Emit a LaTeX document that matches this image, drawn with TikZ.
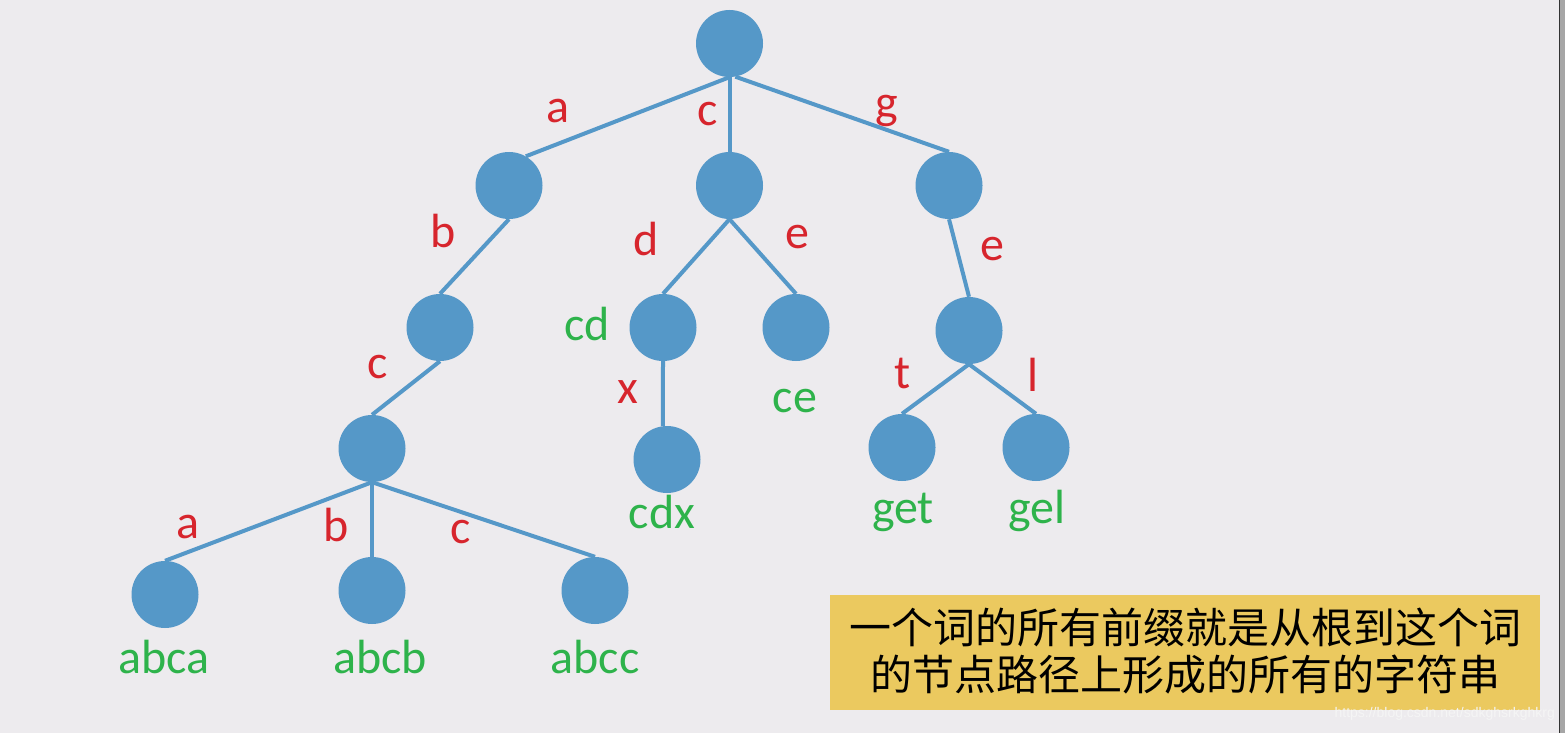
\documentclass[tikz,border=0pt]{standalone}
\usepackage{fontspec}
\setmainfont{Carlito}
\newfontfamily\cjkfont{Noto Sans CJK SC}
\newfontfamily\wmfont{Liberation Sans}
\definecolor{bgcol}{HTML}{EDEBEE}
\definecolor{nodeblue}{HTML}{5598C8}
\definecolor{lblred}{HTML}{D7252D}
\definecolor{wordgreen}{HTML}{2EB34B}
\definecolor{boxyellow}{HTML}{EBC95F}
\tikzset{
  tn/.style={circle, fill=nodeblue, minimum size=67bp, inner sep=0pt},
  tedge/.style={draw=nodeblue, line width=4bp},
  elbl/.style={text=lblred, font=\fontsize{48bp}{52bp}\selectfont, anchor=base, inner sep=0pt},
  wlbl/.style={text=wordgreen, font=\fontsize{48bp}{52bp}\selectfont, anchor=base, inner sep=0pt},
}
\begin{document}
\begin{tikzpicture}[x=1bp,y=-1bp]
\fill[bgcol] (0,0) rectangle (1565,732);
\fill[gray!70] (1559,0) rectangle (1565,732);
\draw[gray!40!black, line width=1bp] (1559.5,0) -- (1559.5,732);
% nodes
\node[tn] (root) at (729.5,43) {};
\node[tn] (a) at (509,185) {};
\node[tn] (c) at (729.5,185) {};
\node[tn] (g) at (949,185) {};
\node[tn] (ab) at (440,327) {};
\node[tn] (cd) at (663,327) {};
\node[tn] (ce) at (796,327) {};
\node[tn] (ge) at (969,330) {};
\node[tn] (abc) at (372,448) {};
\node[tn] (cdx) at (667,459) {};
\node[tn] (get) at (902,447) {};
\node[tn] (gel) at (1036,447) {};
\node[tn] (abca) at (165,594) {};
\node[tn] (abcb) at (372,590) {};
\node[tn] (abcc) at (595,590) {};
% edges
\draw[tedge] (root.south) -- (a.60);
\draw[tedge] (root.south) -- (c.north);
\draw[tedge] (root.-80) -- (g.north);
\draw[tedge] (a.south) -- (ab.north);
\draw[tedge] (ab.south) -- (abc.north);
\draw[tedge] (abc.south) -- (abca.north);
\draw[tedge] (abc.south) -- (abcb.north);
\draw[tedge] (abc.south) -- (abcc.north);
\draw[tedge] (c.south) -- (cd.north);
\draw[tedge] (c.south) -- (ce.north);
\draw[tedge] (cd.south) -- (cdx.97);
\draw[tedge] (g.south) -- (ge.north);
\draw[tedge] (ge.south) -- (get.north);
\draw[tedge] (ge.south) -- (gel.north);
% edge labels
\node[elbl] (la) at (558,122) {a};
\node[elbl] (lc) at (708,125) {c};
\node[elbl] (lg) at (887,118) {g};
\node[elbl] (lb) at (443,247) {b};
\node[elbl] (ld) at (646,255) {d};
\node[elbl] (le) at (797,248) {e};
\node[elbl] (lx) at (628,403) {x};
\node[elbl] (lc2) at (378,378) {c};
\node[elbl] (le2) at (992,260) {e};
\node[elbl] (lt) at (903,388) {t};
\node[elbl] (ll) at (1033,391) {l};
\node[elbl] (la3) at (188,538) {a};
\node[elbl] (lb3) at (336,541) {b};
\node[elbl] (lc3) at (461,543) {c};
% word labels
\node[wlbl] (wcd) at (587,340) {cd};
\node[wlbl] (wce) at (795,412) {ce};
\node[wlbl] (wcdx) at (662,528) {cdx};
\node[wlbl] (wget) at (903,523) {get};
\node[wlbl] (wgel) at (1037,523) {gel};
\node[wlbl] (wabca) at (164,673) {abca};
\node[wlbl] (wabcb) at (380,673) {abcb};
\node[wlbl] (wabcc) at (595,673) {abcc};
% note box
\node[fill=boxyellow, minimum width=710bp, minimum height=115bp, inner sep=0pt] (box) at (1185,651.5) {};
\node[align=center, font=\cjkfont\fontsize{42bp}{47bp}\selectfont, text=black, inner sep=0pt] (note) at (1185,651) {一个词的所有前缀就是从根到这个词\\的节点路径上形成的所有的字符串};
\node[text=white!92!gray, font=\wmfont\fontsize{14bp}{16bp}\selectfont, anchor=east, inner sep=0pt] (wm) at (1555,713) {https://blog.csdn.net/sdkghsrkghkrg};
\end{tikzpicture}
\end{document}
